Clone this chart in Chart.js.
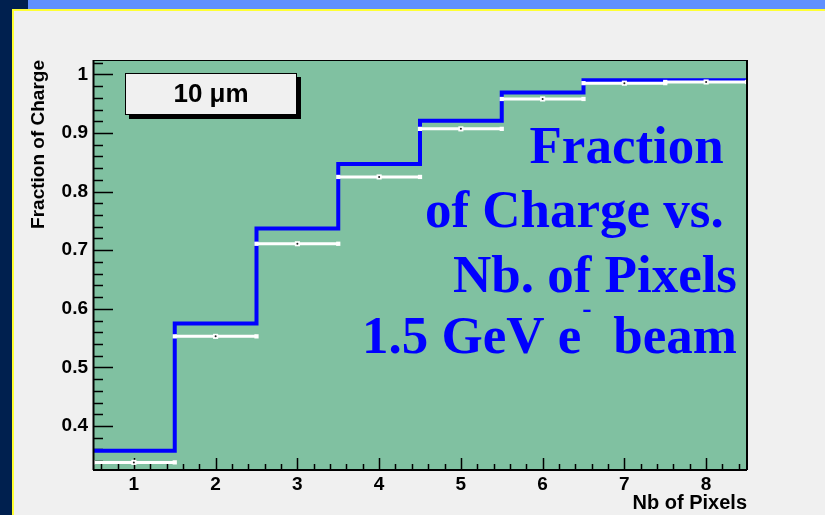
<!DOCTYPE html>
<html>
<head>
<meta charset="utf-8">
<script src="https://cdn.jsdelivr.net/npm/chart.js@4.4.1/dist/chart.umd.min.js"></script>
<style>
  html, body { margin: 0; padding: 0; background: #f0f0f0; overflow: hidden; }
  canvas { display: block; }
</style>
</head>
<body>
<canvas id="c" width="825" height="515"></canvas>
<script>
// Number of pixels (bin centres), bins are one unit wide
const nbPixels = [1, 2, 3, 4, 5, 6, 7, 8];
// Simulated fraction of charge (blue histogram)
const chargeSim = [0.358, 0.575, 0.737, 0.847, 0.921, 0.969, 0.990, 0.990];
// Measured fraction of charge (white points with bin-width bars)
const chargeData = [0.338, 0.553, 0.711, 0.825, 0.907, 0.958, 0.985, 0.987];

const xTickValues = [1, 2, 3, 4, 5, 6, 7, 8];
const xTickLabels = ['1', '2', '3', '4', '5', '6', '7', '8'];
const yTickValues = [0.4, 0.5, 0.6, 0.7, 0.8, 0.9, 1.0];
const yTickLabels = ['0.4', '0.5', '0.6', '0.7', '0.8', '0.9', '1'];

const legendLabel = '10 \u03bcm';
const titleLines = ['Fraction ', 'of Charge vs. ', 'Nb. of Pixels'];
const beamLine = ['1.5 GeV e', '-', 'beam'];

const binHalf = 0.5;

// Step outline: one point per lower bin edge, closed at the last upper edge
const stepPoints = nbPixels.map((n, i) => ({ x: n - binHalf, y: chargeSim[i] }));
stepPoints.push({ x: nbPixels[nbPixels.length - 1] + binHalf, y: chargeSim[chargeSim.length - 1] });

// Horizontal bars spanning each bin, broken between bins
const barPoints = [];
nbPixels.forEach((n, i) => {
  barPoints.push({ x: n - binHalf, y: chargeData[i] });
  barPoints.push({ x: n + binHalf, y: chargeData[i] });
  barPoints.push({ x: n + binHalf, y: null });
});
const markerPoints = nbPixels.map((n, i) => ({ x: n, y: chargeData[i] }));

const decor = {
  id: 'decor',
  beforeDraw(chart) {
    const { ctx, width, height, chartArea: a } = chart;
    ctx.save();
    ctx.fillStyle = '#f0f0f0';
    ctx.fillRect(0, 0, width, height);
    // slide frame
    ctx.fillStyle = '#00204f';
    ctx.fillRect(0, 0, 12, height);
    ctx.fillRect(0, 0, 28, 9);
    ctx.fillStyle = '#6090ff';
    ctx.fillRect(28, 0, width - 28, 9);
    ctx.fillStyle = '#ffff33';
    ctx.fillRect(12, 9, 2, height - 9);
    ctx.fillRect(12, 9, width - 12, 2);
    // plot pad
    ctx.fillStyle = '#80c1a1';
    ctx.fillRect(a.left, a.top, a.right - a.left, a.bottom - a.top);
    ctx.restore();
  },
  beforeDatasetsDraw(chart) {
    const { ctx, chartArea: a, scales: { x, y } } = chart;
    ctx.save();
    ctx.strokeStyle = '#000';
    ctx.lineWidth = 1.5;
    ctx.beginPath();
    // y ticks: majors every 0.1, minors every 0.02, drawn inward
    for (let k = 0; ; k++) {
      const v = Math.round((0.32 + k * 0.02) * 1000) / 1000;
      if (v > y.max) break;
      if (v < y.min) continue;
      const major = Math.abs(v * 10 - Math.round(v * 10)) < 1e-6;
      const py = Math.round(y.getPixelForValue(v)) + 0.5;
      ctx.moveTo(a.left, py);
      ctx.lineTo(a.left + (major ? 20 : 10), py);
    }
    // x ticks: majors every 1, minors every 0.2
    for (let k = 0; ; k++) {
      const v = Math.round((0.6 + k * 0.2) * 1000) / 1000;
      if (v >= x.max) break;
      const major = Math.abs(v - Math.round(v)) < 1e-6;
      const px = Math.round(x.getPixelForValue(v)) + 0.5;
      ctx.moveTo(px, a.bottom);
      ctx.lineTo(px, a.bottom - (major ? 12 : 6));
    }
    ctx.stroke();
    ctx.restore();
  },
  afterDatasetsDraw(chart) {
    const { ctx, chartArea: a } = chart;
    ctx.save();
    // frame
    ctx.strokeStyle = '#000';
    ctx.lineWidth = 1;
    ctx.strokeRect(a.left + 0.5, a.top + 0.5, a.right - a.left - 1, a.bottom - a.top);
    ctx.lineWidth = 2;
    ctx.beginPath();
    ctx.moveTo(a.left, a.bottom);
    ctx.lineTo(a.right, a.bottom);
    ctx.moveTo(a.right, a.top);
    ctx.lineTo(a.right, a.bottom);
    ctx.moveTo(a.left + 0.5, a.top);
    ctx.lineTo(a.left + 0.5, a.bottom);
    ctx.stroke();

    // legend box with drop shadow
    const bx = a.left + 32, by = a.top + 13, bw = 172, bh = 42;
    ctx.fillStyle = '#000';
    ctx.fillRect(bx + 4, by + 4, bw, bh);
    ctx.fillStyle = '#f0f0f0';
    ctx.fillRect(bx, by, bw, bh);
    ctx.lineWidth = 1;
    ctx.strokeRect(bx + 0.5, by + 0.5, bw - 1, bh - 1);
    ctx.fillStyle = '#000';
    ctx.font = 'bold 26px "Liberation Sans", Arial, sans-serif';
    ctx.textAlign = 'center';
    ctx.textBaseline = 'middle';
    ctx.fillText(legendLabel, bx + bw / 2, by + bh / 2 + 1);

    // caption
    const rx = a.right - 10;
    const big = 'bold 53px "Liberation Serif", "Times New Roman", serif';
    const small = 'bold 28px "Liberation Serif", "Times New Roman", serif';
    ctx.fillStyle = '#0000ff';
    ctx.textBaseline = 'alphabetic';
    ctx.font = big;
    ctx.textAlign = 'right';
    const baselines = [103, 167, 232, 293];
    titleLines.forEach((t, i) => ctx.fillText(t, rx, a.top + baselines[i]));
    const yb = a.top + baselines[3];
    const wBeam = ctx.measureText(beamLine[2]).width;
    ctx.fillText(beamLine[2], rx, yb);
    const eRight = rx - wBeam - 32;
    ctx.fillText(beamLine[0], eRight, yb);
    ctx.font = small;
    ctx.textAlign = 'left';
    ctx.fillText(beamLine[1], eRight + 1, yb - 36);
    ctx.restore();
  }
};

const tickFont = { family: '"Liberation Sans", Arial, sans-serif', size: 19, weight: 'bold' };

new Chart(document.getElementById('c').getContext('2d'), {
  type: 'line',
  data: {
    datasets: [
      {
        label: 'simulation',
        data: stepPoints,
        borderColor: '#0000ff',
        borderWidth: 4,
        stepped: true,
        pointRadius: 0,
        fill: false,
        borderJoinStyle: 'miter',
        borderCapStyle: 'butt',
        order: 3
      },
      {
        label: 'data bars',
        data: barPoints,
        borderColor: '#ffffff',
        borderWidth: 3,
        spanGaps: false,
        pointStyle: 'rect',
        pointRadius: 3,
        pointBackgroundColor: '#ffffff',
        pointBorderWidth: 0,
        fill: false,
        order: 2
      },
      {
        label: 'data',
        data: markerPoints,
        showLine: false,
        pointStyle: 'rect',
        pointRadius: 3.6,
        pointBackgroundColor: '#ffffff',
        pointBorderWidth: 0,
        order: 1
      },
      {
        label: 'data centre',
        data: markerPoints,
        showLine: false,
        pointStyle: 'circle',
        pointRadius: 1,
        pointBackgroundColor: '#222222',
        pointBorderWidth: 0,
        order: 0
      }
    ]
  },
  options: {
    responsive: false,
    animation: false,
    devicePixelRatio: 1,
    events: [],
    layout: { padding: { left: 0, top: 60, right: 78, bottom: 0 } },
    plugins: { legend: { display: false }, tooltip: { enabled: false } },
    scales: {
      x: {
        type: 'linear',
        min: 0.5,
        max: 8.5,
        grid: { display: false, drawTicks: false },
        border: { display: false },
        afterBuildTicks: s => { s.ticks = xTickValues.map(v => ({ value: v })); },
        afterFit: s => { s.height = 45; },
        ticks: {
          font: tickFont, color: '#000', padding: 3, maxRotation: 0, autoSkip: false,
          callback: v => xTickLabels[xTickValues.indexOf(v)]
        },
        title: {
          display: true, text: 'Nb of Pixels', align: 'end', color: '#000',
          font: { family: '"Liberation Sans", Arial, sans-serif', size: 20, weight: 'bold' },
          padding: { top: 0, bottom: 0 }
        }
      },
      y: {
        type: 'linear',
        min: 0.325,
        max: 1.0245,
        grid: { display: false, drawTicks: false },
        border: { display: false },
        afterBuildTicks: s => { s.ticks = yTickValues.map(v => ({ value: v })); },
        afterFit: s => { s.width = 93; },
        ticks: {
          font: tickFont, color: '#000', padding: 5,
          callback: v => yTickLabels[yTickValues.findIndex(t => Math.abs(t - v) < 1e-6)]
        },
        title: {
          display: true, text: 'Fraction of Charge', align: 'end', color: '#000',
          font: { family: '"Liberation Sans", Arial, sans-serif', size: 19, weight: 'bold' },
          padding: { top: 27, bottom: 0 }
        }
      }
    }
  },
  plugins: [decor]
});
</script>
</body>
</html>
